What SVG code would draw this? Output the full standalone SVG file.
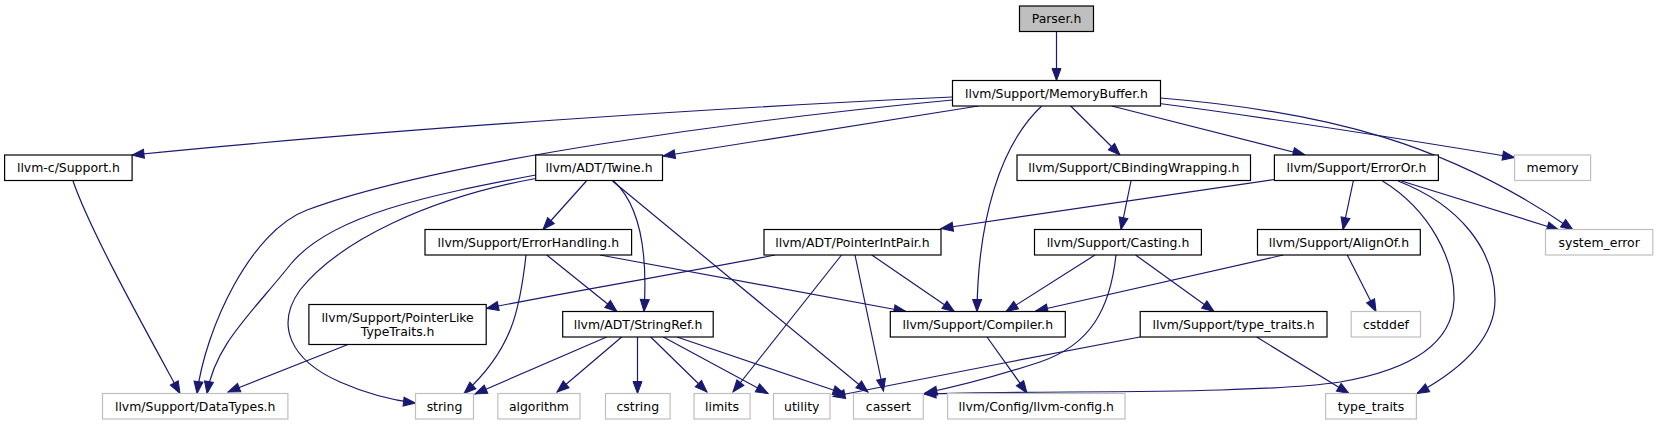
<svg xmlns="http://www.w3.org/2000/svg" width="1658" height="425" viewBox="0 0 1658 425">
<style>
.n rect{fill:#fff;stroke:#000;stroke-width:1.2}
.x rect{fill:#fff;stroke:#bfbfbf;stroke-width:1.2}
.r rect{fill:#bfbfbf;stroke:#000;stroke-width:1.2}
text{font-family:"DejaVu Sans","Liberation Sans",sans-serif;font-size:12.45px;fill:#000;text-anchor:middle}
#edges path{fill:none;stroke:#191970;stroke-width:1.2;marker-end:url(#ah)}
</style>
<defs>
<marker id="ah" markerWidth="12" markerHeight="10" refX="12" refY="4.5" orient="auto" markerUnits="userSpaceOnUse" overflow="visible">
<path d="M0,0 L12,4.5 L0,9 z" fill="#191970" stroke="#191970" stroke-width="1"/>
</marker>
</defs>
<rect width="1658" height="425" fill="#fff"/>
<g id="edges">
<path d="M1056.5,31.5 L1056.5,80.5"/>
<path d="M952.5,97 C750,106 400,128 132,155"/>
<path d="M952.5,100 C760,118 440,160 307,210 C250,231 205,330 197,393.5"/>
<path d="M978.5,106 L663,156"/>
<path d="M1041.7,106 C1000,145 978,220 977,311.5"/>
<path d="M1070.7,106 L1120,155"/>
<path d="M1111.7,106 L1305,155"/>
<path d="M1159.5,103.5 C1300,122 1420,142 1514.6,157.5"/>
<path d="M1160.5,98 C1330,112 1450,145 1573,230"/>
<path d="M73,181 C90,230 140,320 180,393.5"/>
<path d="M535.7,175 C430,195 330,215 290,265 C250,315 215,345 207,393.5"/>
<path d="M535.7,178.5 C430,198 340,240 300,290 C275,325 290,360 340,382 C365,393 390,400 415.5,403"/>
<path d="M586.4,181 L543,229.5"/>
<path d="M613.6,181 C640,205 648,250 644,311.5"/>
<path d="M612.5,181 L868,392"/>
<path d="M1131,181 L1121,229.5"/>
<path d="M1274.4,179.5 L941,228.5"/>
<path d="M1353.3,181 L1343,229.5"/>
<path d="M1382.5,181 C1430,210 1455,260 1454,300 C1452,345 1410,370 1340,382 C1250,395 1050,390 924,394"/>
<path d="M1398,181 C1460,205 1495,250 1495,300 C1495,340 1460,370 1417,393.5"/>
<path d="M1401.4,181 L1559,230"/>
<path d="M775,255 C700,270 560,293 486.5,308.5"/>
<path d="M841.5,255 L733,392"/>
<path d="M855,255 L883.5,391"/>
<path d="M871.8,255 L954.3,311.5"/>
<path d="M1095,255 L1006,311.5"/>
<path d="M1116,255 C1110,310 1090,345 1040,362 C1000,375 960,386 925,393"/>
<path d="M1135.6,255 L1214,311.5"/>
<path d="M1283.3,255 L1035.7,311"/>
<path d="M1347.3,255 L1376,311.5"/>
<path d="M526,255 C520,310 512,350 464,393.5"/>
<path d="M546.7,255 L617,311.5"/>
<path d="M600,255 L906,311.5"/>
<path d="M606.7,337 L475,394"/>
<path d="M621.7,337 L557,392"/>
<path d="M637.5,337 L637.5,393.5"/>
<path d="M650.7,337 L707,392"/>
<path d="M663.3,337 L768,393.5"/>
<path d="M677,337 L845,394"/>
<path d="M348,344.5 L228,392"/>
<path d="M987,337 L1027,393"/>
<path d="M1140,337 C1050,354 900,383 833,396.5"/>
<path d="M1256.6,337 L1349,393.5"/>
</g>
<g id="node-parser" class="r"><rect x="1019.5" y="6" width="74" height="25.5"/><text x="1056.5" y="23">Parser.h</text></g>
<g id="node-memorybuffer" class="n"><rect x="952.5" y="80.5" width="208" height="25.5"/><text x="1056.5" y="97.5">llvm/Support/MemoryBuffer.h</text></g>
<g id="node-llvmc-support" class="n"><rect x="4.6" y="155" width="127.5" height="25.5"/><text x="68.4" y="172">llvm-c/Support.h</text></g>
<g id="node-twine" class="n"><rect x="535.7" y="155" width="126.8" height="25.5"/><text x="599.1" y="172">llvm/ADT/Twine.h</text></g>
<g id="node-cbinding" class="n"><rect x="1017" y="155" width="233.5" height="25.5"/><text x="1133.8" y="172">llvm/Support/CBindingWrapping.h</text></g>
<g id="node-erroror" class="n"><rect x="1274.4" y="155" width="164" height="25.5"/><text x="1356.4" y="172">llvm/Support/ErrorOr.h</text></g>
<g id="node-memory" class="x"><rect x="1514.6" y="155" width="76" height="25.5"/><text x="1552.6" y="172">memory</text></g>
<g id="node-errorhandling" class="n"><rect x="425" y="229.5" width="206.6" height="25.5"/><text x="528.3" y="246.5">llvm/Support/ErrorHandling.h</text></g>
<g id="node-pointerintpair" class="n"><rect x="764" y="229.5" width="177" height="25.5"/><text x="852.5" y="246.5">llvm/ADT/PointerIntPair.h</text></g>
<g id="node-casting" class="n"><rect x="1034.5" y="229.5" width="166.9" height="25.5"/><text x="1118" y="246.5">llvm/Support/Casting.h</text></g>
<g id="node-alignof" class="n"><rect x="1257.5" y="229.5" width="162.8" height="25.5"/><text x="1338.9" y="246.5">llvm/Support/AlignOf.h</text></g>
<g id="node-system-error" class="x"><rect x="1545.5" y="229.5" width="107.3" height="25.5"/><text x="1599.2" y="246.5">system_error</text></g>
<g id="node-pointerlike" class="n"><rect x="308.9" y="304.5" width="177.3" height="40"/><text x="397.6" y="321.5">llvm/Support/PointerLike</text><text x="397.6" y="335.5">TypeTraits.h</text></g>
<g id="node-stringref" class="n"><rect x="562.7" y="311.5" width="150.5" height="25.5"/><text x="638" y="328.5">llvm/ADT/StringRef.h</text></g>
<g id="node-compiler" class="n"><rect x="890.3" y="311.5" width="175" height="25.5"/><text x="977.8" y="328.5">llvm/Support/Compiler.h</text></g>
<g id="node-support-type-traits" class="n"><rect x="1140.2" y="311.5" width="186.8" height="25.5"/><text x="1233.6" y="328.5">llvm/Support/type_traits.h</text></g>
<g id="node-cstddef" class="x"><rect x="1351.2" y="311.5" width="69.3" height="25.5"/><text x="1385.9" y="328.5">cstddef</text></g>
<g id="node-datatypes" class="x"><rect x="102.5" y="393.5" width="185.4" height="25.5"/><text x="195.2" y="410.5">llvm/Support/DataTypes.h</text></g>
<g id="node-string" class="x"><rect x="415.5" y="393.5" width="58" height="25.5"/><text x="444.5" y="410.5">string</text></g>
<g id="node-algorithm" class="x"><rect x="497.8" y="393.5" width="82.2" height="25.5"/><text x="538.9" y="410.5">algorithm</text></g>
<g id="node-cstring" class="x"><rect x="605.5" y="393.5" width="64.6" height="25.5"/><text x="637.8" y="410.5">cstring</text></g>
<g id="node-limits" class="x"><rect x="694" y="393.5" width="56.1" height="25.5"/><text x="722" y="410.5">limits</text></g>
<g id="node-utility" class="x"><rect x="773.5" y="393.5" width="56.5" height="25.5"/><text x="801.8" y="410.5">utility</text></g>
<g id="node-cassert" class="x"><rect x="853.5" y="393.5" width="69.8" height="25.5"/><text x="888.4" y="410.5">cassert</text></g>
<g id="node-llvm-config" class="x"><rect x="947.6" y="393.5" width="177.4" height="25.5"/><text x="1036.3" y="410.5">llvm/Config/llvm-config.h</text></g>
<g id="node-type-traits" class="x"><rect x="1325.6" y="393.5" width="90.8" height="25.5"/><text x="1371" y="410.5">type_traits</text></g>
</svg>
